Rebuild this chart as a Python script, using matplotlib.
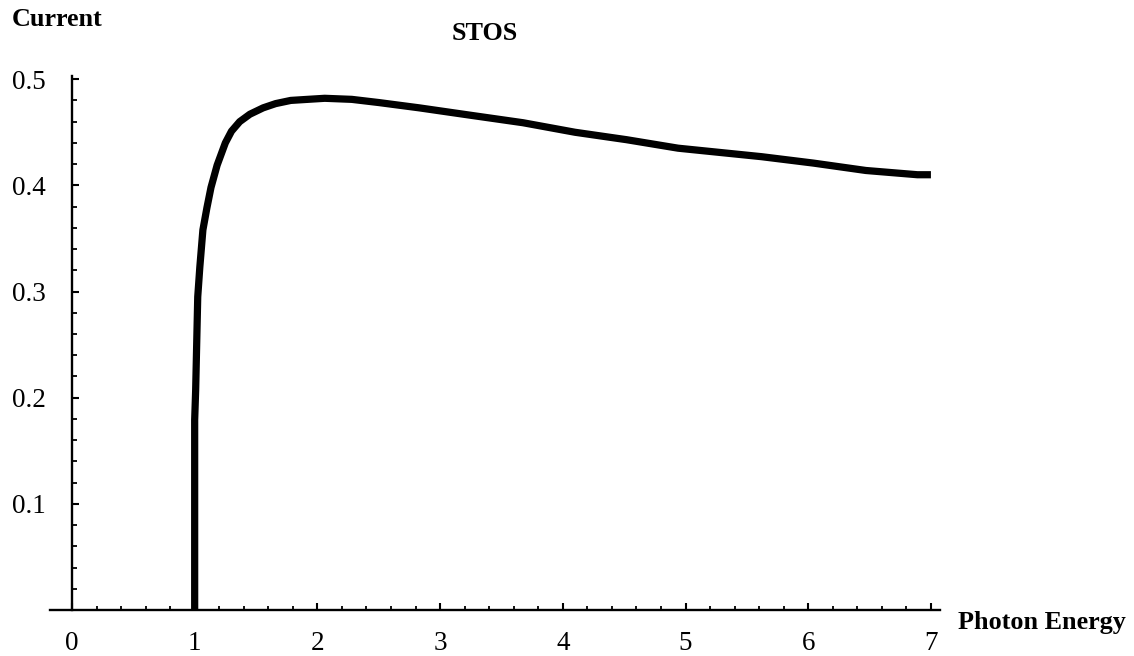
import matplotlib
matplotlib.use("Agg")
import matplotlib.pyplot as plt
from matplotlib.ticker import MultipleLocator

# Data (photon energy vs current)
energy = [1.0, 1.0, 1.008, 1.025, 1.042, 1.067, 1.10, 1.133, 1.183, 1.25,
          1.30, 1.367, 1.45, 1.558, 1.66, 1.783, 1.92, 2.06, 2.28, 2.5,
          2.83, 3.25, 3.675, 4.10, 4.52, 4.94, 5.62, 6.04, 6.47, 6.89, 7.0]
current = [0.0, 0.179, 0.207, 0.295, 0.323, 0.358, 0.379, 0.398, 0.419, 0.440,
           0.451, 0.460, 0.467, 0.473, 0.477, 0.480, 0.481, 0.482, 0.481, 0.478,
           0.473, 0.466, 0.459, 0.450, 0.443, 0.435, 0.427, 0.421, 0.414, 0.410,
           0.410]

x_ticks = [0, 1, 2, 3, 4, 5, 6, 7]
x_tick_labels = ["0", "1", "2", "3", "4", "5", "6", "7"]
y_ticks = [0.1, 0.2, 0.3, 0.4, 0.5]
y_tick_labels = ["0.1", "0.2", "0.3", "0.4", "0.5"]

title = "STOS"
x_label = "Photon Energy"
y_label = "Current"

serif = ["Liberation Serif", "DejaVu Serif"]

fig = plt.figure(figsize=(11.34, 6.56), dpi=100)
ax = fig.add_axes([50 / 1134, (656 - 610) / 656, 890 / 1134, (610 - 76) / 656])

ax.plot(energy, current, color="black", lw=5.2, solid_capstyle="butt",
        solid_joinstyle="round")

ax.set_xlim(-0.179, 7.074)
ax.set_ylim(0, 0.503)

for s in ["top", "right"]:
    ax.spines[s].set_visible(False)
ax.spines["left"].set_position(("data", 0))
ax.spines["left"].set_bounds(0, 0.503)
ax.spines["left"].set_linewidth(1.7)
ax.spines["bottom"].set_linewidth(1.7)

ax.set_xticks(x_ticks)
ax.set_xticklabels(x_tick_labels, fontfamily=serif, fontsize=19.5)
ax.set_yticks(y_ticks)
ax.set_yticklabels(y_tick_labels, fontfamily=serif, fontsize=19.5)
ax.xaxis.set_minor_locator(MultipleLocator(0.2))
ax.yaxis.set_minor_locator(MultipleLocator(0.02))

ax.tick_params(axis="x", which="major", direction="in", length=5, width=1.5, pad=15)
ax.tick_params(axis="x", which="minor", direction="in", length=3, width=1.3)
ax.tick_params(axis="y", which="major", direction="in", length=5, width=1.5, pad=19)
ax.tick_params(axis="y", which="minor", direction="in", length=3.5, width=1.3)

fig.text(12 / 1134, 1 - 20 / 656, y_label, fontfamily=serif, fontweight="bold",
         fontsize=18.8, ha="left", va="center")
fig.text(485 / 1134, 1 - 34 / 656, title, fontfamily=serif, fontweight="bold",
         fontsize=18.8, ha="center", va="center")
fig.text(958 / 1134, 1 - 622 / 656, x_label, fontfamily=serif, fontweight="bold",
         fontsize=18.8, ha="left", va="center")

fig.savefig("out.png", dpi=100, facecolor="white")
